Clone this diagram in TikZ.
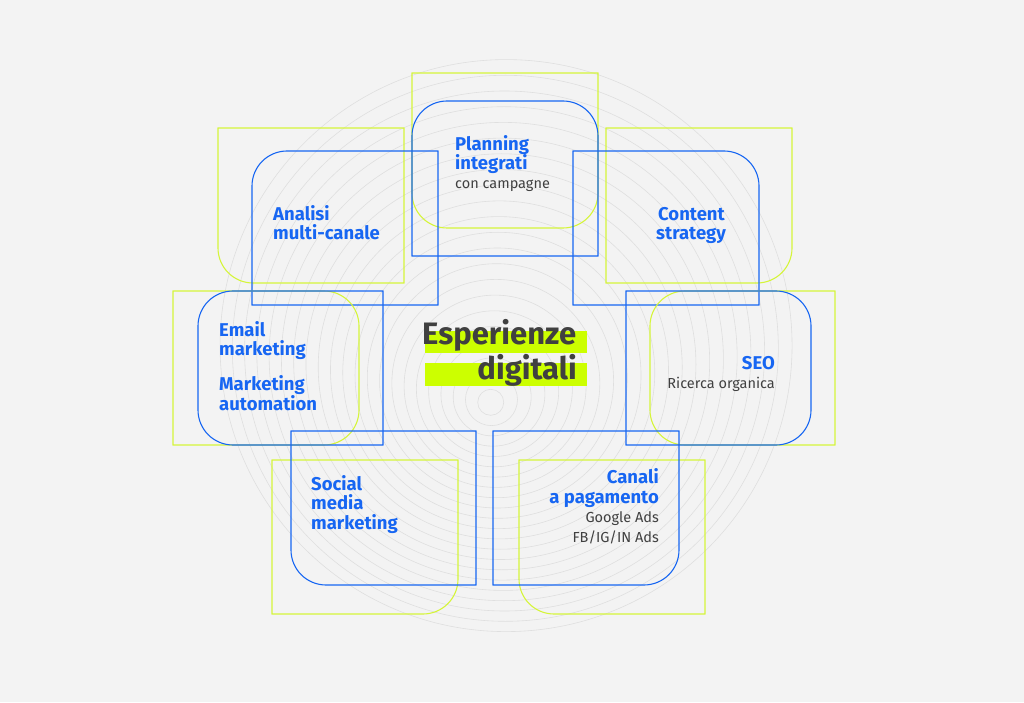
\documentclass[tikz,border=0pt]{standalone}
\usepackage{fontspec}
\setmainfont{Fira Sans}
\usetikzlibrary{positioning}
\definecolor{bgcol}{HTML}{F3F3F3}
\definecolor{blu}{HTML}{1766F2}
\definecolor{lime}{HTML}{D5F53A}
\definecolor{hilite}{HTML}{CCFF00}
\definecolor{ink}{HTML}{404040}
\definecolor{ring}{HTML}{DFDFDF}
% panel: style, x1, top, x2, bottom (pixels), radii tl/tr/br/bl
\newcommand\panel[9]{%
  \pgfmathsetmacro\ya{702-#3}\pgfmathsetmacro\yb{702-#5}%
  \draw[#1] (#2,\yb+#9) -- (#2,\ya-#6) arc[start angle=180,end angle=90,radius=#6]
    -- (#4-#7,\ya) arc[start angle=90,end angle=0,radius=#7]
    -- (#4,\yb+#8) arc[start angle=0,end angle=-90,radius=#8]
    -- (#2+#9,\yb) arc[start angle=270,end angle=180,radius=#9] -- cycle;}
\tikzset{
  gbox/.style={draw=lime,line width=1.1pt},
  bbox/.style={draw=blu,line width=1.1pt},
  head/.style={inner sep=0pt,text=blu,font=\bfseries\fontsize{18.5}{19.5}\selectfont},
  sub/.style={inner sep=0pt,text=ink,font=\fontsize{14.5}{20}\selectfont},
}
\begin{document}
\begin{tikzpicture}[x=1pt,y=1pt]
  \fill[bgcol] (0,0) rectangle (1024,702);
  \useasboundingbox (0,0) rectangle (1024,702);
  % background rings
  \foreach \i in {1,...,22}
    \draw[ring,line width=0.6pt] (490+0.73*\i,297+2.7*\i) circle[radius=13*\i];
  % panels: green first, blue above
  \panel{gbox}{412}{73}{598}{228}{0.01}{0.01}{35}{35}
  \panel{bbox}{412}{101}{598}{256}{35}{35}{0.01}{0.01}
  \panel{gbox}{218}{128}{404}{283}{0.01}{0.01}{0.01}{35}
  \panel{bbox}{252}{151}{438}{305}{35}{0.01}{0.01}{0.01}
  \panel{gbox}{606}{128}{792}{283}{0.01}{0.01}{35}{0.01}
  \panel{bbox}{573}{151}{759}{305}{0.01}{35}{0.01}{0.01}
  \panel{gbox}{173}{291}{359}{445}{0.01}{35}{35}{0.01}
  \panel{bbox}{198}{291}{383}{445}{35}{0.01}{0.01}{35}
  \panel{gbox}{650}{291}{835}{445}{35}{0.01}{0.01}{35}
  \panel{bbox}{626}{291}{811}{445}{0.01}{35}{35}{0.01}
  \panel{gbox}{272}{460}{458}{614}{0.01}{0.01}{35}{0.01}
  \panel{bbox}{291}{431}{476}{585}{0.01}{0.01}{0.01}{35}
  \panel{gbox}{519}{460}{705}{614}{0.01}{0.01}{0.01}{35}
  \panel{bbox}{493}{431}{679}{585}{0.01}{0.01}{35}{0.01}
  % centre title
  \fill[hilite] (425,702-331) rectangle (587,702-353);
  \fill[hilite] (425,702-363) rectangle (587,702-386);
  \node[anchor=base west,inner sep=0pt,text=ink,font=\bfseries\fontsize{31}{34}\selectfont] (esp) at (422,702-345) {Esperienze};
  \node[anchor=base east,inner sep=0pt,text=ink,font=\bfseries\fontsize{31}{34}\selectfont] (dig) at (577,702-379) {digitali};
  % labels (base = last line)
  \node[head,anchor=base west,align=left] (plan) at (455,702-170) {Planning\\integrati};
  \node[sub,anchor=base west] (plansub) at (455,702-189) {con campagne};
  \node[head,anchor=base west,align=left] (anal) at (273,702-240) {Analisi\\multi-canale};
  \node[head,anchor=base west,align=left] (cont) at (656,702-240) {\hspace*{2pt}Content\\strategy};
  \node[head,anchor=base west,align=left] (mail) at (219,702-356) {Email\\marketing};
  \node[head,anchor=base west,align=left] (auto) at (219,702-410) {Marketing\\automation};
  \node[head,anchor=base east] (seo) at (775,702-369) {SEO};
  \node[sub,anchor=base east] (seosub) at (775,702-388) {Ricerca organica};
  \node[head,anchor=base west,align=left] (soc) at (311,702-529) {Social\\media\\marketing};
  \node[head,anchor=base east,align=right] (can) at (659,702-503) {Canali\\a pagamento};
  \node[sub,anchor=base east,align=right] (cansub) at (659,702-542) {Google Ads\\FB/IG/IN Ads};
\end{tikzpicture}
\end{document}
